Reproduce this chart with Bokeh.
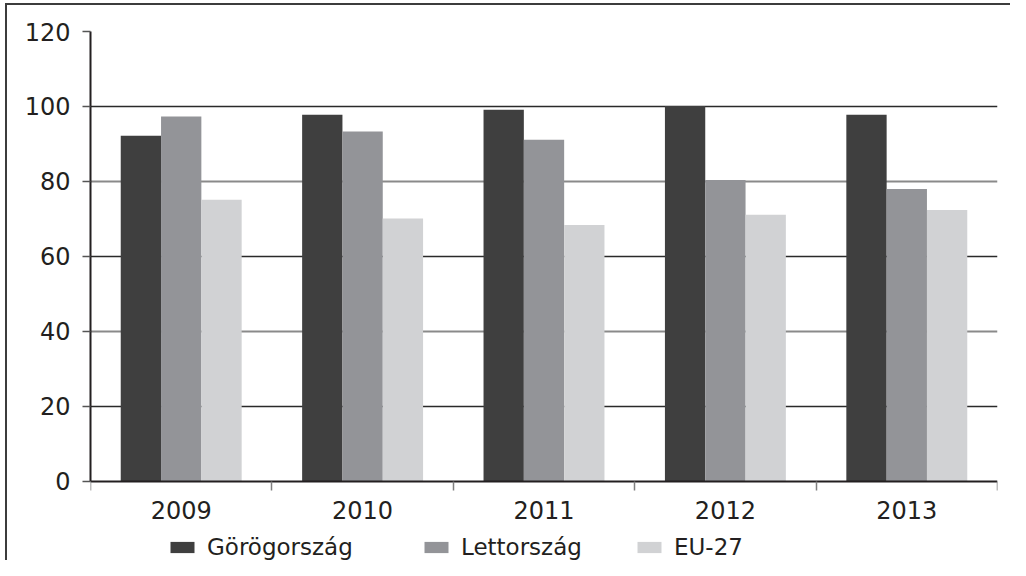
from bokeh.plotting import figure
from bokeh.models import FixedTicker, Grid, Legend, LegendItem, Range1d, ColumnDataSource
from bokeh.transform import dodge
from bokeh.embed import file_html
from bokeh.resources import INLINE

years = ["2009", "2010", "2011", "2012", "2013"]
greece = [92.2, 97.8, 99.1, 100.1, 97.8]
latvia = [97.3, 93.3, 91.1, 80.4, 78.0]
eu27 = [75.1, 70.1, 68.4, 71.1, 72.4]
series_names = ["Görögország", "Lettország", "EU-27"]
colors = ["#3f3f3f", "#939498", "#d1d2d4"]
y_ticks_dark = [20, 60, 100]
y_ticks_gray = [40, 80, 120]
y_ticks = [0, 20, 40, 60, 80, 100, 120]

FONT = "DejaVu Sans"
TXT = "#231f20"
BORDER = "#3c3c3c"

p = figure(width=1010, height=560, output_backend="svg", toolbar_location=None,
           x_range=Range1d(-0.5, len(years) - 0.5), y_range=Range1d(-21.07, 120),
           min_border_left=90, min_border_right=13, min_border_top=31, min_border_bottom=0)
p.outline_line_color = None
p.border_fill_alpha = 0
p.styles = {
    "background-color": "white",
    "background-image": f"linear-gradient({BORDER},{BORDER}), linear-gradient({BORDER},{BORDER})",
    "background-size": "2px 100%, 100% 2px",
    "background-position": "5px 3px, 5px 3px",
    "background-repeat": "no-repeat",
}

src = ColumnDataSource(dict(x=list(range(len(years))), g=greece, l=latvia, e=eu27))
w = 2 / 9
renderers = []
for col, off, c in zip(["g", "l", "e"], [-w, 0, w], colors):
    r = p.vbar(x=dodge("x", off, range=p.x_range), top=col, width=w, bottom=0,
               source=src, fill_color=c, line_color=None)
    renderers.append(r)

# grids
p.xgrid.visible = False
p.ygrid[0].ticker = FixedTicker(ticks=y_ticks_dark)
p.ygrid[0].grid_line_color = "#2a2a2a"
p.ygrid[0].grid_line_width = 1.5
g2 = Grid(dimension=1, ticker=FixedTicker(ticks=y_ticks_gray), grid_line_color="#8a8a8a",
          grid_line_width=1.8)
p.add_layout(g2)

# y axis
ya = p.yaxis[0]
ya.ticker = FixedTicker(ticks=y_ticks)
ya.bounds = (0, 120)
ya.major_tick_out = 8
ya.major_tick_in = 0
ya.minor_tick_out = 0
ya.major_tick_line_color = "#555555"
ya.major_tick_line_width = 1.5
ya.axis_line_color = TXT
ya.axis_line_width = 2
ya.major_label_standoff = 12
ya.major_label_text_font = FONT
ya.major_label_text_font_size = "24px"
ya.major_label_text_color = TXT

# x axis, fixed at y = 0
xa = p.xaxis[0]
xa.fixed_location = 0
xa.ticker = FixedTicker(ticks=list(range(len(years))),
                        minor_ticks=[i - 0.5 for i in range(len(years) + 1)])
xa.major_label_overrides = {i: y for i, y in enumerate(years)}
xa.major_tick_out = 0
xa.major_tick_in = 0
xa.minor_tick_out = 9
xa.minor_tick_in = 0
xa.minor_tick_line_color = "#7f7f7f"
xa.minor_tick_line_width = 1.5
xa.axis_line_color = TXT
xa.axis_line_width = 2
xa.major_label_standoff = 11
xa.major_label_text_font = FONT
xa.major_label_text_font_size = "24px"
xa.major_label_text_color = TXT

# legends: one per series, placed inside the (extended) frame
leg_x = [77, 331, 544]
for name, r, lx in zip(series_names, renderers, leg_x):
    lg = Legend(items=[LegendItem(label=name, renderers=[r])], location=(lx, 0),
                orientation="horizontal", glyph_width=30, glyph_height=14,
                label_standoff=10, padding=0, margin=0, spacing=0,
                border_line_color=None, background_fill_alpha=0,
                label_text_font=FONT, label_text_font_size="23px", label_text_color=TXT)
    p.add_layout(lg, "center")

open("out.html", "w").write(file_html(p, INLINE))
